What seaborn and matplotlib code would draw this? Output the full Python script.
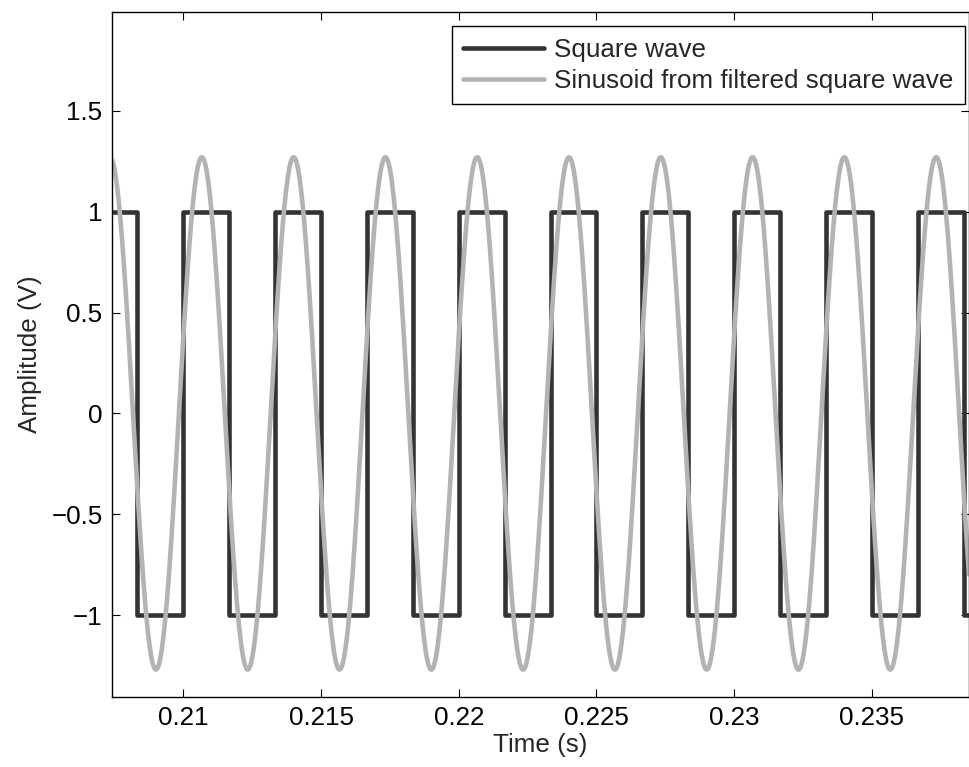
import numpy as np
import pandas as pd
import matplotlib
matplotlib.use("Agg")
import matplotlib.pyplot as plt
import seaborn as sns

# ---- data ----
view_window = [0.20742, 0.23853]          # time span shown (s)
square_edge_times = [0.208333, 0.210000, 0.211667, 0.213333, 0.215000,
                     0.216667, 0.218333, 0.220000, 0.221667, 0.223333,
                     0.225000, 0.226667, 0.228333, 0.230000, 0.231667,
                     0.233333, 0.235000, 0.236667, 0.238333]
square_levels = [1, -1]                    # level before first edge, then alternates
sine_amplitude = 1.27                      # V
sine_freq_hz = 300.0
sine_peak_time = 0.21067                   # s, time of one crest

x_ticks = [0.21, 0.215, 0.22, 0.225, 0.23, 0.235]
x_ticklabels = ["0.21", "0.215", "0.22", "0.225", "0.23", "0.235"]
y_ticks = [-1, -0.5, 0, 0.5, 1, 1.5]
y_ticklabels = ["\u22121", "\u22120.5", "0", "0.5", "1", "1.5"]
series_names = ["Square wave", "Sinusoid from filtered square wave"]

# ---- build the series ----
sq_t, sq_v = [view_window[0]], [square_levels[0]]
level = square_levels[0]
for e in square_edge_times:
    sq_t += [e, e]
    sq_v += [level, -level]
    level = -level
sq_t.append(view_window[1]); sq_v.append(level)
sq_df = pd.DataFrame({"t": sq_t, "v": sq_v})

sin_t = np.linspace(view_window[0], view_window[1], 3000)
sin_v = sine_amplitude * np.cos(2 * np.pi * sine_freq_hz * (sin_t - sine_peak_time))
sin_df = pd.DataFrame({"t": sin_t, "v": sin_v})

# ---- plotting ----
sns.set_style("ticks")
plt.rcParams["font.family"] = ["Liberation Sans", "DejaVu Sans"]
plt.rcParams["axes.unicode_minus"] = True
FS = 18.7

fig = plt.figure(figsize=(9.7, 7.67), dpi=100)
ax = fig.add_axes([0.1158, 0.0917, 0.8832, 0.8927])

sns.lineplot(data=sq_df, x="t", y="v", sort=False, estimator=None, ax=ax,
             color="#333333", linewidth=3.3, label=series_names[0])
sns.lineplot(data=sin_df, x="t", y="v", sort=False, estimator=None, ax=ax,
             color="#b3b3b3", linewidth=3.3, label=series_names[1])

ax.set_xlim(view_window)
ax.set_ylim(-1.404, 1.99)
ax.set_xticks(x_ticks)
ax.set_xticklabels(x_ticklabels)
ax.set_yticks(y_ticks)
ax.set_yticklabels(y_ticklabels)
ax.tick_params(direction="in", length=5.5, width=0.8, labelsize=FS,
               top=True, right=True, pad=7, color="black", labelcolor="black")
for s in ax.spines.values():
    s.set_visible(True)
    s.set_linewidth(1.0)
    s.set_color("black")

ax.set_xlabel("Time (s)", fontsize=FS, labelpad=2)
ax.set_ylabel("Amplitude (V)", fontsize=FS, labelpad=7)

leg = ax.legend(loc="upper right", bbox_to_anchor=(0.9955, 0.9796),
                fancybox=False, edgecolor="black", framealpha=1,
                fontsize=FS, handlelength=3.1, handletextpad=0.4,
                borderpad=0.45, labelspacing=0.27, borderaxespad=0)
leg.get_frame().set_linewidth(1.0)

fig.savefig("out.png", dpi=100, facecolor="white")
